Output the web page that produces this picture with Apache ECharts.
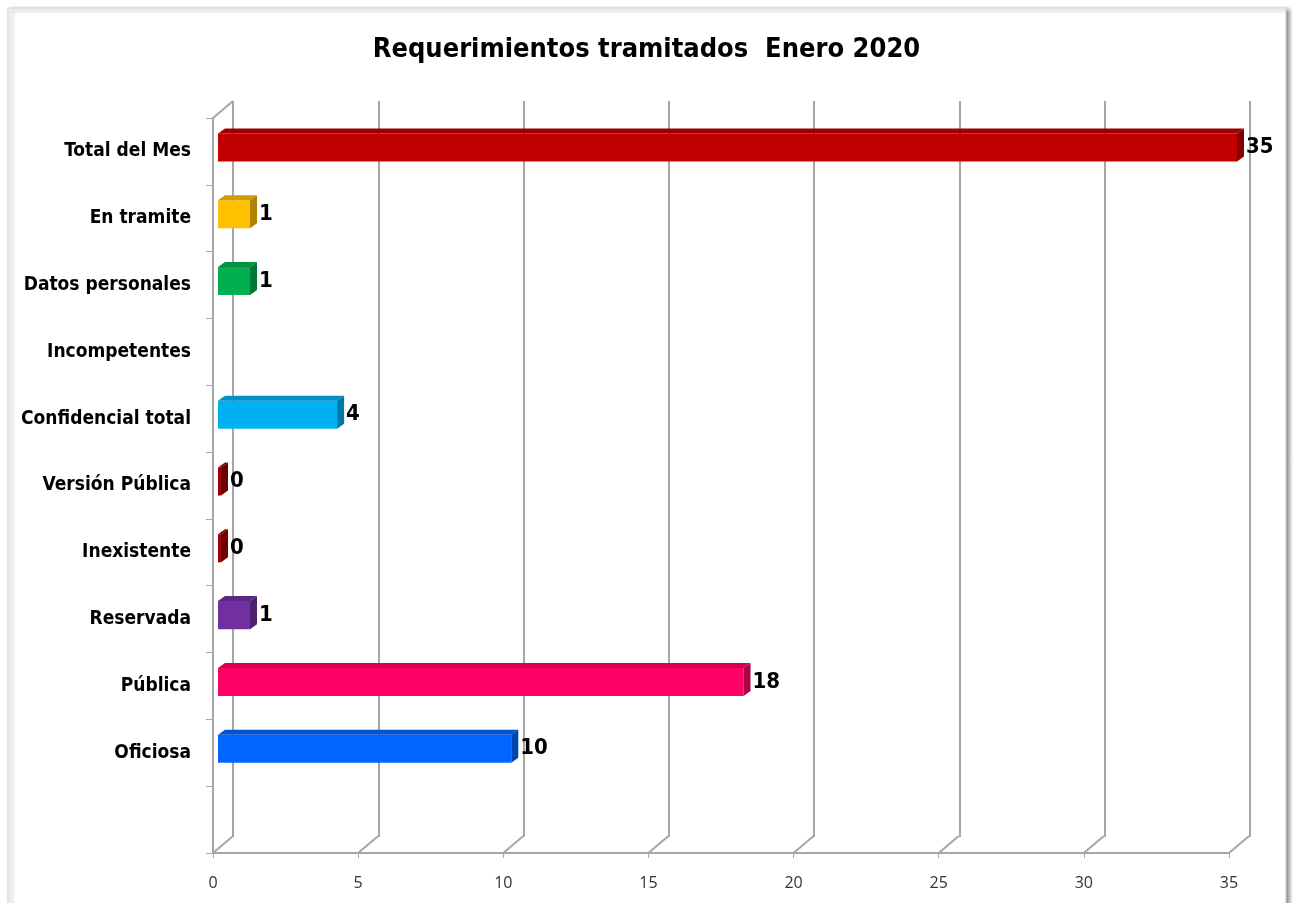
<!DOCTYPE html>
<html>
<head>
<meta charset="utf-8">
<title>Requerimientos tramitados Enero 2020</title>
<script src="https://cdn.jsdelivr.net/npm/echarts@6/dist/echarts.min.js"></script>
<style>
  html, body { margin: 0; padding: 0; background: #fff; }
  #myCharts { width: 1293px; height: 903px; }
</style>
</head>
<body>
<div id="myCharts"></div>
<script>
// categories top to bottom (last slot is empty, as in the original)
var categories = [
  "Total del Mes", "En tramite", "Datos personales", "Incompetentes",
  "Confidencial total", "Versión Pública", "Inexistente", "Reservada",
  "Pública", "Oficiosa", ""
];
var values = [35, 1, 1, null, 4, 0, 0, 1, 18, 10, null];
var barColors = [
  "#C00000", "#FFC000", "#00B050", "#C00000",
  "#00B0F0", "#A00000", "#A00000", "#7030A0",
  "#FF0066", "#0066FF", "#C00000"
];
var xTicks = [0, 5, 10, 15, 20, 25, 30, 35];

var FONT = "'DejaVu Sans Condensed', 'Liberation Sans Narrow', sans-serif";
var GRID_COLOR = "#a6a6a6";
// depth offset between the front plane and the back wall
var DX = 20, DY = 17;

function shade(hex, f) {
  var n = parseInt(hex.slice(1), 16);
  var r = Math.round(((n >> 16) & 255) * f);
  var g = Math.round(((n >> 8) & 255) * f);
  var b = Math.round((n & 255) * f);
  return "rgb(" + r + "," + g + "," + b + ")";
}

function renderBar(params, api) {
  var v = api.value(0);
  var c = api.value(1);
  if (v == null || isNaN(v)) return;
  var p0 = api.coord([0, c]);
  var p1 = api.coord([v, c]);
  var slot = api.size([0, 1])[1];
  var h = slot * 0.42;
  var ox = 5, oy = 4;   // bar sits slightly inside the depth
  var bx = 7, by = 5;   // bar depth
  var x0 = p0[0] + ox, x1 = p1[0] + ox + 3;
  var y0 = p0[1] - oy - h / 2, y1 = y0 + h;
  var col = barColors[params.dataIndex];
  return {
    type: "group",
    children: [
      {
        type: "rect",
        shape: { x: x0, y: y0, width: x1 - x0, height: h },
        style: { fill: col }
      },
      {
        type: "polygon",
        shape: { points: [[x0, y0], [x1, y0], [x1 + bx, y0 - by], [x0 + bx, y0 - by]] },
        style: { fill: shade(col, 0.82) }
      },
      {
        type: "polygon",
        shape: { points: [[x1, y0], [x1 + bx, y0 - by], [x1 + bx, y1 - by], [x1, y1]] },
        style: { fill: shade(col, 0.68) }
      },
      {
        type: "text",
        style: {
          text: String(v),
          x: x1 + bx + 2,
          y: (y0 + y1) / 2,
          verticalAlign: "middle",
          fill: "#000",
          font: "bold 22px " + FONT
        }
      }
    ]
  };
}

function renderDepth(params, api) {
  var cs = params.coordSys;
  var px = api.coord([api.value(0), 0])[0];
  var bottom = cs.y + cs.height;
  var lines = [{
    type: "line",
    shape: { x1: px, y1: bottom, x2: px + DX, y2: bottom - DY },
    style: { stroke: GRID_COLOR, lineWidth: 2 }
  }];
  if (params.dataIndex === 0) {
    lines.push({
      type: "line",
      shape: { x1: cs.x, y1: cs.y, x2: cs.x + DX, y2: cs.y - DY },
      style: { stroke: GRID_COLOR, lineWidth: 2 }
    });
  }
  return { type: "group", children: lines };
}

var barData = values.map(function (v, i) { return [v, i]; });
var depthData = xTicks.map(function (t) { return [t]; });

var option = {
  animation: false,
  backgroundColor: "#fff",
  title: {
    text: "Requerimientos tramitados  Enero 2020",
    left: "center",
    top: 31,
    textStyle: { color: "#000", fontSize: 27, fontWeight: "bold", fontFamily: FONT }
  },
  graphic: [{
    type: "rect",
    z: -10,
    shape: { x: 8, y: 8, width: 1278, height: 900 },
    style: {
      fill: "#fff", stroke: "#d4d4d4", lineWidth: 1,
      shadowBlur: 4, shadowOffsetX: 3, shadowOffsetY: 2, shadowColor: "rgba(0,0,0,0.45)"
    }
  }],
  grid: [
    { left: 213, right: 64, top: 118, bottom: 50 },
    { left: 233, right: 43, top: 101, bottom: 66 }
  ],
  xAxis: [
    {
      gridIndex: 0, type: "value", min: 0, max: 35, interval: 5,
      axisLine: { show: true, lineStyle: { color: GRID_COLOR, width: 2 } },
      axisTick: { show: true, length: 5, lineStyle: { color: GRID_COLOR, width: 1 } },
      axisLabel: { color: "#333", fontSize: 16, margin: 22, fontFamily: "'Open Sans', 'DejaVu Sans', sans-serif" },
      splitLine: { show: false }
    },
    {
      gridIndex: 1, type: "value", min: 0, max: 35, interval: 5,
      axisLine: { show: false }, axisTick: { show: false }, axisLabel: { show: false },
      splitLine: { show: true, lineStyle: { color: GRID_COLOR, width: 2 } }
    }
  ],
  yAxis: [
    {
      gridIndex: 0, type: "category", inverse: true, data: categories,
      axisLine: { show: true, lineStyle: { color: GRID_COLOR, width: 2 } },
      axisTick: { show: true, length: 7, lineStyle: { color: GRID_COLOR, width: 1 } },
      axisLabel: { color: "#000", fontSize: 19, fontWeight: "bold", fontFamily: FONT, margin: 22 },
      splitLine: { show: false }
    },
    {
      gridIndex: 1, type: "category", inverse: true, data: categories, show: false
    }
  ],
  series: [
    {
      type: "custom",
      xAxisIndex: 0, yAxisIndex: 0,
      renderItem: renderDepth,
      data: depthData,
      z: 1,
      silent: true
    },
    {
      type: "custom",
      xAxisIndex: 0, yAxisIndex: 0,
      renderItem: renderBar,
      encode: { x: 0, y: 1 },
      data: barData,
      z: 5
    }
  ]
};

var myChart = echarts.init(document.getElementById("myCharts"));
myChart.setOption(option);
</script>
</body>
</html>
